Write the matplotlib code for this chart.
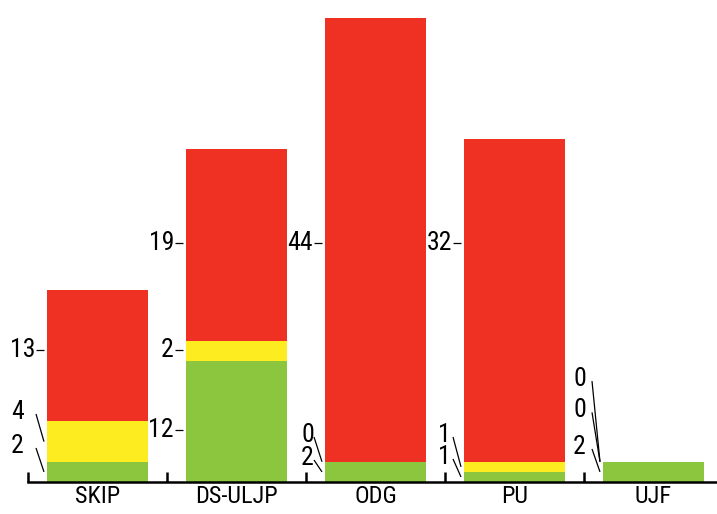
import numpy as np
import matplotlib
matplotlib.use('Agg')
import matplotlib.pyplot as plt

# Datos por categoría (verde abajo, amarillo en medio, rojo arriba)
categorias = ['SKIP', 'DS-ULJP', 'ODG', 'PU', 'UJF']
verde = [2, 12, 2, 1, 2]
amarillo = [4, 2, 0, 1, 0]
rojo = [13, 19, 44, 32, 0]

# Posición vertical de cada etiqueta (unidades de datos) y si lleva línea guía
etiqueta_y = [
    [3.57, 6.94, 13.08],
    [5.15, 13.08, 23.7],
    [2.38, 4.66, 23.7],
    [2.48, 4.66, 23.7],
    [3.47, 7.1, 10.2],
]
con_guia = [
    [True, True, False],
    [False, False, False],
    [True, True, False],
    [True, True, False],
    [True, True, True],
]
# separación (px) del borde derecho del texto con guía respecto a la barra
sep_guia = [23, 0, 11, 13, 17]

colores = ['#8cc63f', '#fcec20', '#ef3124']
plt.rcParams['font.family'] = ['Roboto Condensed', 'Liberation Sans', 'DejaVu Sans']
tam = 18.5

W, H = 717, 514
fig = plt.figure(figsize=(W / 100, H / 100), dpi=100)
ax = fig.add_axes([0, 32 / H, 1, 482 / H])
ax.set_xlim(-97.5 / 139, (W - 97.5) / 139)
ax.set_ylim(0, 482 / 10.09)

px_x = (ax.get_xlim()[1] - ax.get_xlim()[0]) / W
px_y = (ax.get_ylim()[1] - ax.get_ylim()[0]) / 482

x = np.arange(len(categorias))
ancho = 101 / 139
series = [verde, amarillo, rojo]
base = np.zeros(len(categorias))
bases = []
for vals, col in zip(series, colores):
    ax.bar(x, vals, ancho, bottom=base, color=col, linewidth=0, zorder=1)
    bases.append(base.copy())
    base = base + np.array(vals)

# Etiquetas de valores
for i in range(len(categorias)):
    izq = x[i] - ancho / 2
    for s in range(3):
        valor = series[s][i]
        medio = bases[s][i] + valor / 2
        ly = etiqueta_y[i][s]
        if con_guia[i][s]:
            ax.text(izq - sep_guia[i] * px_x, ly, str(valor), ha='right', va='center',
                    fontsize=tam, color='black')
            ax.plot([izq - 11 * px_x, izq - 3 * px_x], [ly - 2 * px_y, medio],
                    color='black', lw=0.9, solid_capstyle='butt')
        else:
            ax.text(izq - 12 * px_x, ly, str(valor), ha='right', va='center',
                    fontsize=tam, color='black')
            ax.plot([izq - 11 * px_x, izq - 3 * px_x], [ly, ly],
                    color='black', lw=0.9, solid_capstyle='butt')

# Eje inferior
for lado in ['left', 'top', 'right']:
    ax.spines[lado].set_visible(False)
ax.spines['bottom'].set_linewidth(1.8)
ax.spines['bottom'].set_bounds(-0.5, ax.get_xlim()[1])
ax.set_yticks([])
ax.set_xticks(x)
ax.set_xticklabels(categorias, fontsize=17.5)
ax.tick_params(axis='x', which='major', length=0, pad=2.5)
ax.set_xticks(x - 0.5, minor=True)
ax.tick_params(axis='x', which='minor', direction='in', length=7.5, width=1.8)

fig.savefig('out.png', dpi=100)
